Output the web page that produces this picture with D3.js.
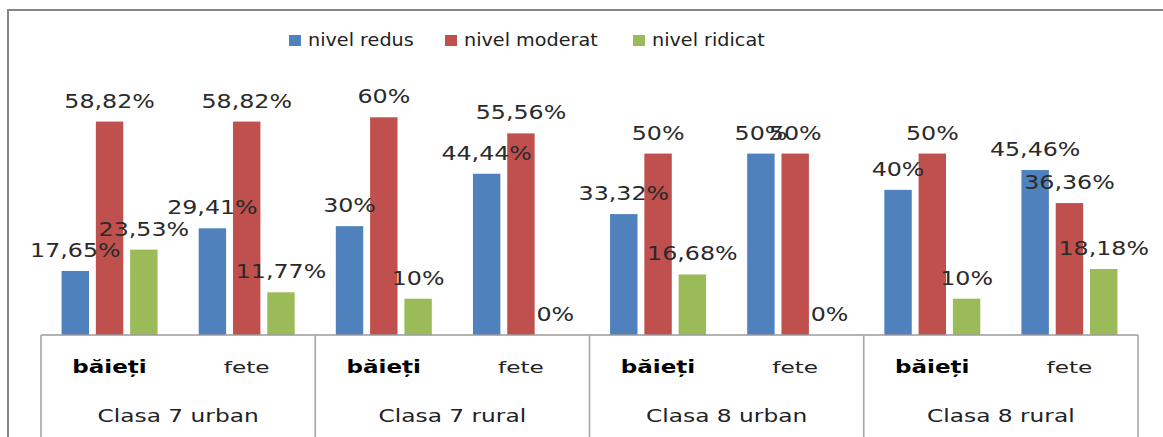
<!DOCTYPE html>
<html>
<head>
<meta charset="utf-8">
<script src="https://cdn.jsdelivr.net/npm/d3@7"></script>
<style>
  body { margin: 0; background: #fff; }
  text { font-family: "DejaVu Sans", Verdana, sans-serif; fill: #000; }
</style>
</head>
<body>
<div id="chart"></div>
<script>
var groups = ["Clasa 7 urban", "Clasa 7 rural", "Clasa 8 urban", "Clasa 8 rural"],
	subgroups = ["băieți", "fete"],
	series = ["nivel redus", "nivel moderat", "nivel ridicat"],
	colors = ["#4f81bd", "#c0504d", "#9bbb59"],
	redus    = [17.65, 29.41, 30, 44.44, 33.32, 50, 40, 45.46],
	moderat  = [58.82, 58.82, 60, 55.56, 50, 50, 50, 36.36],
	ridicat  = [23.53, 11.77, 10, 0, 16.68, 0, 10, 18.18],
	labels   = [
		["17,65%", "29,41%", "30%", "44,44%", "33,32%", "50%", "40%", "45,46%"],
		["58,82%", "58,82%", "60%", "55,56%", "50%", "50%", "50%", "36,36%"],
		["23,53%", "11,77%", "10%", "0%", "16,68%", "0%", "10%", "18,18%"]
	];

var width = 1163,
	height = 437,
	left = 41,
	right = 1138,
	base = 335;

var values = [redus, moderat, ridicat];

var cells = [];
groups.forEach(function(g, gi){
	subgroups.forEach(function(s, si){
		cells.push({group: g, sub: s, i: gi * 2 + si});
	});
});

var svg = d3.select("#chart")
	.append("svg")
	.attr("width", width)
	.attr("height", height);

// outer chart border
svg.append("rect")
	.attr("x", 8).attr("y", 10)
	.attr("width", width + 20).attr("height", height + 20)
	.attr("fill", "none")
	.attr("stroke", "#868686")
	.attr("stroke-width", 2);

var x0 = d3.scaleBand()
	.domain(groups)
	.range([left, right]);

var xc = d3.scaleBand()
	.domain(d3.range(cells.length))
	.range([left, right]);

var x1 = d3.scaleBand()
	.domain(d3.range(series.length))
	.range([0, xc.bandwidth()])
	.paddingInner(0.2)
	.paddingOuter(0.6);

var y = d3.scaleLinear()
	.domain([0, 70])
	.range([base, 81]);

// bars
var bars = [];
values.forEach(function(v, k){
	v.forEach(function(d, i){
		bars.push({k: k, i: i, value: d, label: labels[k][i]});
	});
});

svg.selectAll("rect.bar")
	.data(bars)
	.enter()
	.append("rect")
	.attr("class", "bar")
	.attr("x", function(d){ return xc(d.i) + x1(d.k); })
	.attr("width", x1.bandwidth())
	.attr("y", function(d){ return y(d.value); })
	.attr("height", function(d){ return base - y(d.value); })
	.attr("fill", function(d){ return colors[d.k]; });

// value labels
svg.selectAll("g.vlabel")
	.data(bars)
	.enter()
	.append("g")
	.attr("class", "vlabel")
	.attr("transform", function(d){
		var cx = xc(d.i) + x1(d.k) + x1.bandwidth() / 2;
		return "translate(" + cx + "," + (y(d.value) - 14) + ") scale(1.25,1)";
	})
	.append("text")
	.attr("text-anchor", "middle")
	.style("font-size", "19px")
	.style("fill", "#2a2a2a")
	.text(function(d){ return d.label; });

// axis lines
svg.append("line")
	.attr("x1", left).attr("x2", right)
	.attr("y1", base).attr("y2", base)
	.attr("stroke", "#9a9a9a").attr("stroke-width", 1.5);

var ticks = groups.map(function(g){ return x0(g); }).concat([right]);
svg.selectAll("line.tick")
	.data(ticks)
	.enter()
	.append("line")
	.attr("class", "tick")
	.attr("x1", function(d){ return d; }).attr("x2", function(d){ return d; })
	.attr("y1", base).attr("y2", height)
	.attr("stroke", "#a6a6a6").attr("stroke-width", 1.6);

// sub category labels
svg.selectAll("g.sub")
	.data(cells)
	.enter()
	.append("g")
	.attr("class", "sub")
	.attr("transform", function(d){
		var cx = xc(d.i) + xc.bandwidth() / 2;
		return d.sub == "fete"
			? "translate(" + cx + ",373) scale(1.45,1)"
			: "translate(" + cx + ",373) scale(1.28,1)";
	})
	.append("text")
	.attr("text-anchor", "middle")
	.style("font-size", function(d){ return d.sub == "fete" ? "16px" : "18px"; })
	.style("font-weight", function(d){ return d.sub == "fete" ? "normal" : "bold"; })
	.style("fill", function(d){ return d.sub == "fete" ? "#222" : "#000"; })
	.text(function(d){ return d.sub; });

// group labels
svg.selectAll("g.grp")
	.data(groups)
	.enter()
	.append("g")
	.attr("class", "grp")
	.attr("transform", function(d){
		return "translate(" + (x0(d) + x0.bandwidth() / 2) + ",422) scale(1.37,1)";
	})
	.append("text")
	.attr("text-anchor", "middle")
	.style("font-size", "17px")
	.style("fill", "#222")
	.text(function(d){ return d; });

// legend
var legendX = [289, 445, 633];
var legend = svg.selectAll("g.legend")
	.data(series)
	.enter()
	.append("g")
	.attr("class", "legend")
	.attr("transform", function(d, i){ return "translate(" + legendX[i] + ",0)"; });

legend.append("rect")
	.attr("x", 0).attr("y", 35)
	.attr("width", 12).attr("height", 11)
	.attr("fill", function(d, i){ return colors[i]; });

legend.append("g")
	.attr("transform", "translate(19,46) scale(1.13,1)")
	.append("text")
	.style("font-size", "17px")
	.style("fill", "#222")
	.text(function(d){ return d; });
</script>
</body>
</html>
